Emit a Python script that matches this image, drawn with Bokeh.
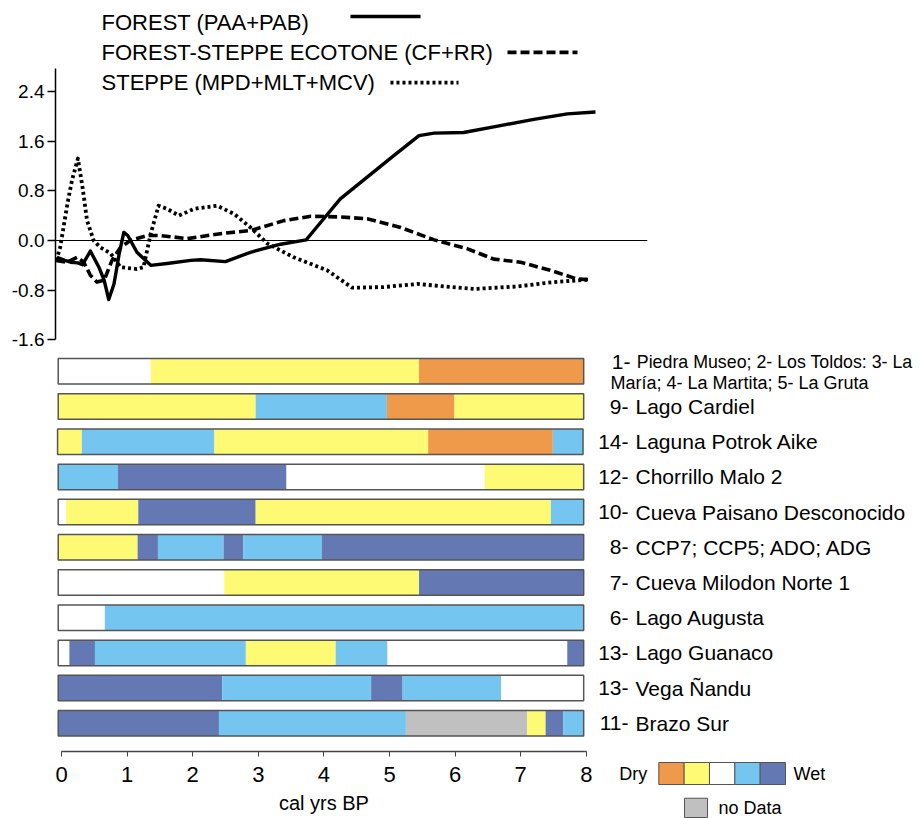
from bokeh.plotting import figure
from bokeh.models import Range1d, LinearAxis, FixedTicker, NumeralTickFormatter, ColumnDataSource
from bokeh.core.properties import value
from bokeh.embed import file_html
from bokeh.resources import INLINE

FONT = value("Liberation Sans")

# ---------------- data: vegetation curves (x = cal kyr BP) ----------------
forest_x = [-0.07, 0.05, 0.14, 0.25, 0.32, 0.44, 0.57, 0.65, 0.72, 0.80, 0.88, 0.95, 1.01, 1.15,
            1.36, 1.61, 1.97, 2.12, 2.50, 2.88, 3.34, 3.73, 3.87, 4.25, 4.66, 5.07, 5.45, 5.68,
            6.13, 6.69, 7.20, 7.71, 8.14]
forest_y = [-0.27, -0.32, -0.35, -0.36, -0.39, -0.17, -0.43, -0.64, -0.95, -0.70, -0.21, 0.13, 0.08,
            -0.19, -0.40, -0.37, -0.32, -0.31, -0.34, -0.19, -0.06, 0.01, 0.19, 0.67, 1.02, 1.37,
            1.69, 1.73, 1.74, 1.85, 1.95, 2.04, 2.07]

ecotone_x = [-0.08, 0.09, 0.24, 0.34, 0.44, 0.54, 0.65, 0.77, 0.90, 1.05, 1.31, 1.51, 1.92, 2.42,
             2.88, 3.39, 3.80, 4.25, 4.66, 5.17, 5.68, 6.18, 6.59, 7.00, 7.45, 7.86, 8.06]
ecotone_y = [-0.32, -0.35, -0.27, -0.35, -0.56, -0.67, -0.64, -0.32, -0.11, 0.00, 0.08, 0.08, 0.03,
             0.11, 0.16, 0.32, 0.39, 0.38, 0.35, 0.21, 0.01, -0.13, -0.30, -0.35, -0.48, -0.62, -0.63]

steppe_x = [-0.08, -0.02, 0.09, 0.16, 0.25, 0.32, 0.39, 0.49, 0.59, 0.75, 0.90, 1.15, 1.25, 1.36,
            1.48, 1.61, 1.79, 2.02, 2.37, 2.63, 2.88, 3.14, 3.54, 4.05, 4.43, 4.91, 5.42, 6.29,
            6.95, 7.50, 8.04]
steppe_y = [-0.32, -0.11, 0.59, 0.97, 1.32, 0.86, 0.32, 0.00, -0.11, -0.21, -0.43, -0.46, -0.43,
            0.11, 0.56, 0.51, 0.40, 0.51, 0.56, 0.43, 0.21, -0.05, -0.27, -0.48, -0.76, -0.75,
            -0.70, -0.78, -0.74, -0.67, -0.63]

series_labels = ["FOREST (PAA+PAB)", "FOREST-STEPPE ECOTONE (CF+RR)", "STEPPE (MPD+MLT+MCV)"]

y_ticks = [-1.6, -0.8, 0.0, 0.8, 1.6, 2.4]
x_ticks = [0, 1, 2, 3, 4, 5, 6, 7, 8]
x_title = "cal yrs BP"

# ---------------- data: site records ----------------
site_nums = ["1-", "9-", "14-", "12-", "10-", "8-", "7-", "6-", "13-", "13-", "11-"]
site_names = ["Piedra Museo; 2- Los Toldos: 3- La", "Lago Cardiel", "Laguna Potrok Aike",
              "Chorrillo Malo 2", "Cueva Paisano Desconocido", "CCP7; CCP5; ADO; ADG",
              "Cueva Milodon Norte 1", "Lago Augusta", "Lago Guanaco", "Vega Ñandu", "Brazo Sur"]
site_name_cont = "María; 4- La Martita; 5- La Gruta"

site_breaks = [
    [-0.05, 1.36, 5.45, 7.96],
    [-0.05, 2.96, 4.96, 5.99, 7.96],
    [-0.06, 0.31, 2.33, 5.59, 7.49, 7.95],
    [-0.05, 0.86, 3.43, 6.45, 7.96],
    [-0.05, 0.07, 1.17, 2.96, 7.46, 7.96],
    [-0.05, 1.16, 1.47, 2.47, 2.77, 3.97, 7.96],
    [-0.05, 2.48, 5.45, 7.96],
    [-0.05, 0.66, 7.96],
    [-0.05, 0.12, 0.51, 2.81, 4.18, 4.97, 7.71, 7.96],
    [-0.05, 2.45, 4.72, 5.20, 6.70, 7.96],
    [-0.05, 2.40, 5.25, 7.10, 7.38, 7.65, 7.96],
]
site_classes = [
    ["N", "D1", "D2"],
    ["D1", "W1", "D2", "D1"],
    ["D1", "W1", "D1", "D2", "W1"],
    ["W1", "W2", "N", "D1"],
    ["N", "D1", "W2", "D1", "W1"],
    ["D1", "W2", "W1", "W2", "W1", "W2"],
    ["N", "D1", "W2"],
    ["N", "W1"],
    ["N", "W2", "W1", "D1", "W1", "N", "W2"],
    ["W2", "W1", "W2", "W1", "N"],
    ["W2", "W1", "ND", "D1", "W2", "W1"],
]

class_keys = ["D2", "D1", "N", "W1", "W2", "ND"]
class_colors = ["#EF994A", "#FFFA73", "#FFFFFF", "#74C5F0", "#6479B3", "#C0C0C0"]
color_of = dict(zip(class_keys, class_colors))
scale_keys = ["D2", "D1", "N", "W1", "W2"]

# ---------------- figure ----------------
W, H = 922, 818
p = figure(width=W, height=H, output_backend="svg", toolbar_location=None,
           x_range=Range1d(-0.0915, 13.125), y_range=Range1d(10.801, -10.534),
           y_axis_location=None, min_border_left=55, min_border_right=0,
           min_border_top=0, min_border_bottom=67, outline_line_color=None,
           background_fill_color="white", border_fill_color="white")
p.extra_y_ranges = {"curves": Range1d(-8.229, 3.865)}
p.grid.grid_line_color = None

# x axis
xa = p.xaxis[0]
xa.ticker = FixedTicker(ticks=x_ticks)
xa.bounds = (0, 8)
xa.minor_tick_line_color = None
xa.major_tick_in = 0
xa.major_tick_out = 5
xa.axis_line_color = "#444444"
xa.major_tick_line_color = "#444444"
xa.axis_line_width = 1.3
xa.major_label_text_font = "Liberation Sans"
xa.major_label_text_font_size = "22px"
xa.major_label_text_color = "black"
xa.major_label_standoff = 10

# x-axis title centred under the 0-8 axis span (below the frame -> overlay level)
t_title = p.text(x=[sum(xa.bounds) / 2], y=[12.25], text=[x_title], text_font=FONT,
                 text_font_size="20px", text_baseline="middle", text_align="center",
                 text_color="black")
t_title.level = "overlay"

# y axis for curves
ya = LinearAxis(y_range_name="curves", bounds=(-1.6, 2.77),
                ticker=FixedTicker(ticks=y_ticks),
                formatter=NumeralTickFormatter(format="0.0"))
ya.minor_tick_line_color = None
ya.major_tick_in = 0
ya.major_tick_out = 8
ya.axis_line_width = 1.5
ya.major_tick_line_width = 1.3
ya.major_label_text_font = "Liberation Sans"
ya.major_label_text_font_size = "19px"
ya.major_label_text_color = "black"
ya.major_label_standoff = 3
p.add_layout(ya, "left")

# zero reference line
p.segment(x0=[-0.0915], y0=[0], x1=[8.93], y1=[0], y_range_name="curves",
          line_color="black", line_width=1.2)

# curves
styles = [dict(line_dash="solid", line_width=3.4),
          dict(line_dash="9 4", line_width=3.6),
          dict(line_dash="3 3", line_width=3.8)]
curves = [(forest_x, forest_y), (ecotone_x, ecotone_y), (steppe_x, steppe_y)]
for (cx, cy), st in zip(curves, styles):
    p.line(cx, cy, y_range_name="curves", line_color="black", line_join="round", **st)

# top legend (label left, line sample right)
leg_text_y = [3.51, 3.03, 2.544]
leg_line_y = [3.607, 3.03, 2.544]
leg_line_x = [(4.405, 5.473), (6.799, 7.866), (5.015, 6.052)]
p.text(x=[0.61] * 3, y=leg_text_y, text=series_labels, y_range_name="curves",
       text_font=FONT, text_font_size="22px", text_baseline="middle", text_align="left",
       text_color="black")
for st, ly, (lx0, lx1) in zip(styles, leg_line_y, leg_line_x):
    p.line([lx0, lx1], [ly, ly], y_range_name="curves", line_color="black", **st)

# site bars
seg = dict(y=[], left=[], right=[], color=[])
for r, (br, cl) in enumerate(zip(site_breaks, site_classes)):
    for i, c in enumerate(cl):
        seg["y"].append(r)
        seg["left"].append(br[i])
        seg["right"].append(br[i + 1])
        seg["color"].append(color_of[c])
src = ColumnDataSource(seg)
BAR_H = 0.724
p.hbar(y="y", left="left", right="right", height=BAR_H, fill_color="color",
       line_color=None, source=src)
rows = list(range(len(site_names)))
p.hbar(y=rows, left=[b[0] for b in site_breaks], right=[b[-1] for b in site_breaks],
       height=BAR_H, fill_color=None, line_color="#555555", line_width=1.5)

# site labels
NUM_X, NAME_X = 8.643, 8.75
p.text(x=[NUM_X] * 10, y=rows[1:], text=site_nums[1:], text_font=FONT,
       text_font_size="21px", text_baseline="middle", text_align="right", text_color="black")
p.text(x=[NAME_X] * 10, y=rows[1:], text=site_names[1:], text_font=FONT,
       text_font_size="21px", text_baseline="middle", text_align="left", text_color="black")
p.text(x=[NUM_X + 0.03], y=[rows[0] - 0.256], text=site_nums[:1], text_font=FONT,
       text_font_size="21px", text_baseline="middle", text_align="right", text_color="black")
p.text(x=[NAME_X + 0.02], y=[rows[0] - 0.256], text=site_names[:1], text_font=FONT,
       text_font_size="17.8px", text_baseline="middle", text_align="left", text_color="black")
p.text(x=[8.369], y=[rows[0] + 0.341], text=[site_name_cont], text_font=FONT,
       text_font_size="18px", text_baseline="middle", text_align="left", text_color="black")

# bottom colour legend (drawn below the frame -> overlay level, centre-based rects)
BOX_L, BOX_W, LEG_Y, LEG_H = 9.105, 0.3864, 11.426, 0.625
centers = [BOX_L + (i + 0.5) * BOX_W for i in range(len(scale_keys))]
r1 = p.rect(x=centers, y=[LEG_Y] * len(scale_keys), width=BOX_W, height=LEG_H,
            fill_color=[color_of[k] for k in scale_keys], line_color="#555555", line_width=1)
r2 = p.rect(x=[9.6725], y=[12.402], width=0.351, height=0.548,
            fill_color=color_of["ND"], line_color="#555555", line_width=1)
r3 = p.text(x=[8.93], y=[LEG_Y], text=["Dry"], text_font=FONT, text_font_size="18px",
            text_baseline="middle", text_align="right", text_color="black")
r4 = p.text(x=[11.159], y=[LEG_Y], text=["Wet"], text_font=FONT, text_font_size="18px",
            text_baseline="middle", text_align="left", text_color="black")
r5 = p.text(x=[10.015], y=[12.42], text=["no Data"], text_font=FONT, text_font_size="18px",
            text_baseline="middle", text_align="left", text_color="black")
for rr in (r1, r2, r3, r4, r5):
    rr.level = "overlay"

open("out.html", "w").write(file_html(p, INLINE))
